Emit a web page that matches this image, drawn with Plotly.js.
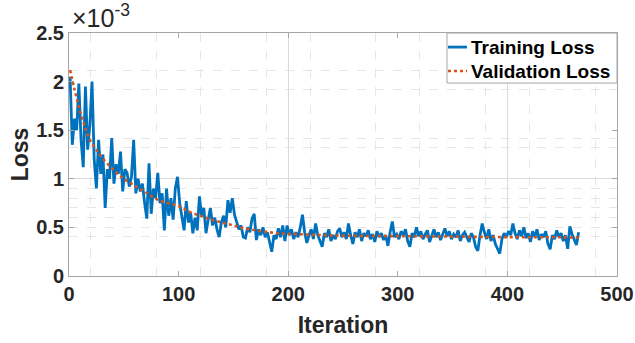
<!DOCTYPE html>
<html>
<head>
<meta charset="utf-8">
<script src="https://cdn.plot.ly/plotly-3.0.1.min.js"></script>
<style>
html,body{margin:0;padding:0;background:#fff;}
#chart{width:635px;height:343px;}
</style>
</head>
<body>
<div id="chart"></div>
<script>
// Loss values are in units of 1e-3 (axis shows a x10^-3 multiplier)
const iterStart = 1;
const iterStep = 2;
const trainLoss = [
 2.05,1.35,1.62,1.50,1.98,1.40,1.12,1.95,1.30,1.55,
 2.00,1.20,0.90,1.40,1.05,1.25,0.70,1.10,1.00,1.42,
 0.95,1.15,1.05,1.28,0.87,1.10,1.06,0.92,1.02,1.40,
 0.85,1.00,0.87,0.95,0.75,0.59,1.16,0.64,0.90,0.80,
 1.06,0.75,0.85,0.47,0.90,0.62,0.80,0.58,0.90,1.02,
 0.75,0.60,0.47,0.77,0.55,0.65,0.44,0.60,0.47,0.82,
 0.62,0.70,0.44,0.58,0.70,0.52,0.60,0.48,0.40,0.55,
 0.62,0.50,0.78,0.65,0.80,0.63,0.55,0.48,0.52,0.40,
 0.39,0.50,0.45,0.59,0.64,0.37,0.48,0.42,0.50,0.40,
 0.45,0.35,0.25,0.42,0.38,0.49,0.40,0.52,0.36,0.52,
 0.42,0.48,0.38,0.45,0.40,0.50,0.63,0.45,0.34,0.42,
 0.48,0.38,0.54,0.42,0.36,0.30,0.44,0.40,0.48,0.36,
 0.42,0.38,0.46,0.49,0.40,0.45,0.38,0.54,0.42,0.33,
 0.45,0.40,0.48,0.36,0.44,0.41,0.47,0.38,0.43,0.35,
 0.46,0.40,0.44,0.37,0.42,0.31,0.45,0.56,0.40,0.43,
 0.38,0.46,0.42,0.48,0.36,0.30,0.44,0.40,0.50,0.41,
 0.46,0.38,0.43,0.47,0.35,0.42,0.48,0.40,0.45,0.37,
 0.44,0.49,0.41,0.46,0.38,0.43,0.40,0.47,0.36,0.42,
 0.45,0.39,0.35,0.44,0.40,0.30,0.26,0.42,0.54,0.45,
 0.38,0.48,0.36,0.42,0.33,0.28,0.23,0.38,0.44,0.40,
 0.46,0.42,0.54,0.44,0.38,0.47,0.41,0.50,0.39,0.44,
 0.35,0.46,0.40,0.48,0.37,0.43,0.40,0.46,0.33,0.275,
 0.42,0.38,0.47,0.40,0.44,0.36,0.42,0.28,0.51,0.43,
 0.38,0.32,0.45
];
const trainIter = trainLoss.map((_, i) => iterStart + i * iterStep);

const valIter = [1,5,10,15,20,25,30,40,50,60,70,80,90,100,110,120,130,140,150,160,170,180,190,200,220,250,300,350,400,450,465];
const valLoss = [2.12,1.92,1.70,1.52,1.38,1.30,1.22,1.10,1.00,0.93,0.86,0.79,0.75,0.72,0.66,0.62,0.58,0.55,0.52,0.49,0.47,0.455,0.44,0.435,0.425,0.415,0.41,0.405,0.40,0.398,0.395];

const xTicks = [0,100,200,300,400,500];
const yTicks = [0,0.5,1,1.5,2,2.5];
const yTickText = ['0','0.5','1','1.5','2','2.5'];
const xGridMajor = [200,400];
const xGridMinor = [20,80,120,180,220,280,320,380,420,480];
const yGridMajor = [1.0];
const yGridMinor = [0.41,0.5,0.6,0.7,0.8,0.9,1.32,1.41,1.92,2.11];

const seriesNames = ['Training Loss','Validation Loss'];
const seriesColors = ['#0072BD','#D95319'];
const expLabel = '\u00d710<sup>-3</sup>';

const FONT = 'Liberation Sans, Arial, sans-serif';
const frameColor = '#a6a6a6';
const textColor = '#262626';

const traces = [
  {x: trainIter, y: trainLoss, type: 'scatter', mode: 'lines', name: seriesNames[0],
   line: {color: seriesColors[0], width: 2.8}, xaxis: 'x', yaxis: 'y', showlegend: false},
  {x: valIter, y: valLoss, type: 'scatter', mode: 'lines', name: seriesNames[1],
   line: {color: seriesColors[1], width: 2.6, dash: 'dot', shape: 'spline'}, xaxis: 'x', yaxis: 'y', showlegend: false},
  {x: [0], y: [0], type: 'scatter', mode: 'markers', marker: {opacity: 0}, showlegend: false, hoverinfo: 'skip', xaxis: 'x2', yaxis: 'y2'}
];

// legend box (paper coordinates of the plot area)
const legBox = {x0: 0.6898, x1: 1.0, y0: 0.794, y1: 1.0};
const legRowY = [0.942, 0.8436];
const legSampleX = [0.6916, 0.7263];
const legTextX = 0.7299;

const shapes = [
  {type: 'rect', xref: 'paper', yref: 'paper', x0: legBox.x0, x1: legBox.x1, y0: legBox.y0, y1: legBox.y1,
   fillcolor: '#fff', line: {color: frameColor, width: 1}, layer: 'above'},
  {type: 'line', xref: 'paper', yref: 'paper', x0: legSampleX[0], x1: legSampleX[1], y0: legRowY[0], y1: legRowY[0],
   line: {color: seriesColors[0], width: 2.8}, layer: 'above'},
  {type: 'line', xref: 'paper', yref: 'paper', x0: legSampleX[0], x1: legSampleX[1], y0: legRowY[1], y1: legRowY[1],
   line: {color: seriesColors[1], width: 2.6, dash: 'dot'}, layer: 'above'}
];

const annotations = [
  {text: expLabel, xref: 'paper', yref: 'paper', x: 0, y: 1, xanchor: 'left', yanchor: 'bottom',
   xshift: 1, yshift: -1, showarrow: false, font: {family: FONT, size: 25, color: textColor}},
  {text: seriesNames[0], xref: 'paper', yref: 'paper', x: legTextX, y: legRowY[0], xanchor: 'left', yanchor: 'middle',
   showarrow: false, font: {family: FONT, size: 19, weight: 'bold', color: '#000'}},
  {text: seriesNames[1], xref: 'paper', yref: 'paper', x: legTextX, y: legRowY[1], xanchor: 'left', yanchor: 'middle',
   showarrow: false, font: {family: FONT, size: 19, weight: 'bold', color: '#000'}}
];

const layout = {
  width: 635, height: 343,
  margin: {l: 69, r: 18, t: 33, b: 67, pad: 0},
  paper_bgcolor: '#fff', plot_bgcolor: '#fff',
  showlegend: false,
  font: {family: FONT, color: textColor},
  xaxis: {
    range: [0, 500], tickmode: 'array', tickvals: xTicks,
    ticks: 'inside', ticklen: 5, tickcolor: frameColor, tickwidth: 1,
    showline: true, linecolor: frameColor, linewidth: 1, mirror: 'ticks',
    showgrid: false, zeroline: false,
    tickfont: {family: FONT, size: 20, weight: 'bold', color: textColor},
    title: {text: 'Iteration', font: {family: FONT, size: 23, weight: 'bold', color: textColor}, standoff: 12}
  },
  yaxis: {
    range: [0, 2.5], tickmode: 'array', tickvals: yTicks, ticktext: yTickText,
    ticks: 'inside', ticklen: 5, tickcolor: frameColor, tickwidth: 1,
    showline: true, linecolor: frameColor, linewidth: 1, mirror: 'ticks',
    showgrid: false, zeroline: false,
    tickfont: {family: FONT, size: 20, weight: 'bold', color: textColor},
    title: {text: 'Loss', font: {family: FONT, size: 23, weight: 'bold', color: textColor}, standoff: 1}
  },
  xaxis2: {
    overlaying: 'x', anchor: 'y2', range: [0, 500], tickmode: 'array', tickvals: xGridMajor,
    showticklabels: false, ticks: '', showline: false, zeroline: false,
    showgrid: true, gridcolor: '#dadada', gridwidth: 1,
    minor: {tickmode: 'array', tickvals: xGridMinor, showgrid: true, griddash: 'dash', gridcolor: '#e6e6e6', gridwidth: 1, ticks: ''}
  },
  yaxis2: {
    overlaying: 'y', anchor: 'x2', range: [0, 2.5], tickmode: 'array', tickvals: yGridMajor,
    showticklabels: false, ticks: '', showline: false, zeroline: false,
    showgrid: true, gridcolor: '#dadada', gridwidth: 1,
    minor: {tickmode: 'array', tickvals: yGridMinor, showgrid: true, griddash: 'dash', gridcolor: '#e6e6e6', gridwidth: 1, ticks: ''}
  },
  shapes: shapes,
  annotations: annotations
};

Plotly.newPlot('chart', traces, layout, {displayModeBar: false, staticPlot: true});
</script>
</body>
</html>
